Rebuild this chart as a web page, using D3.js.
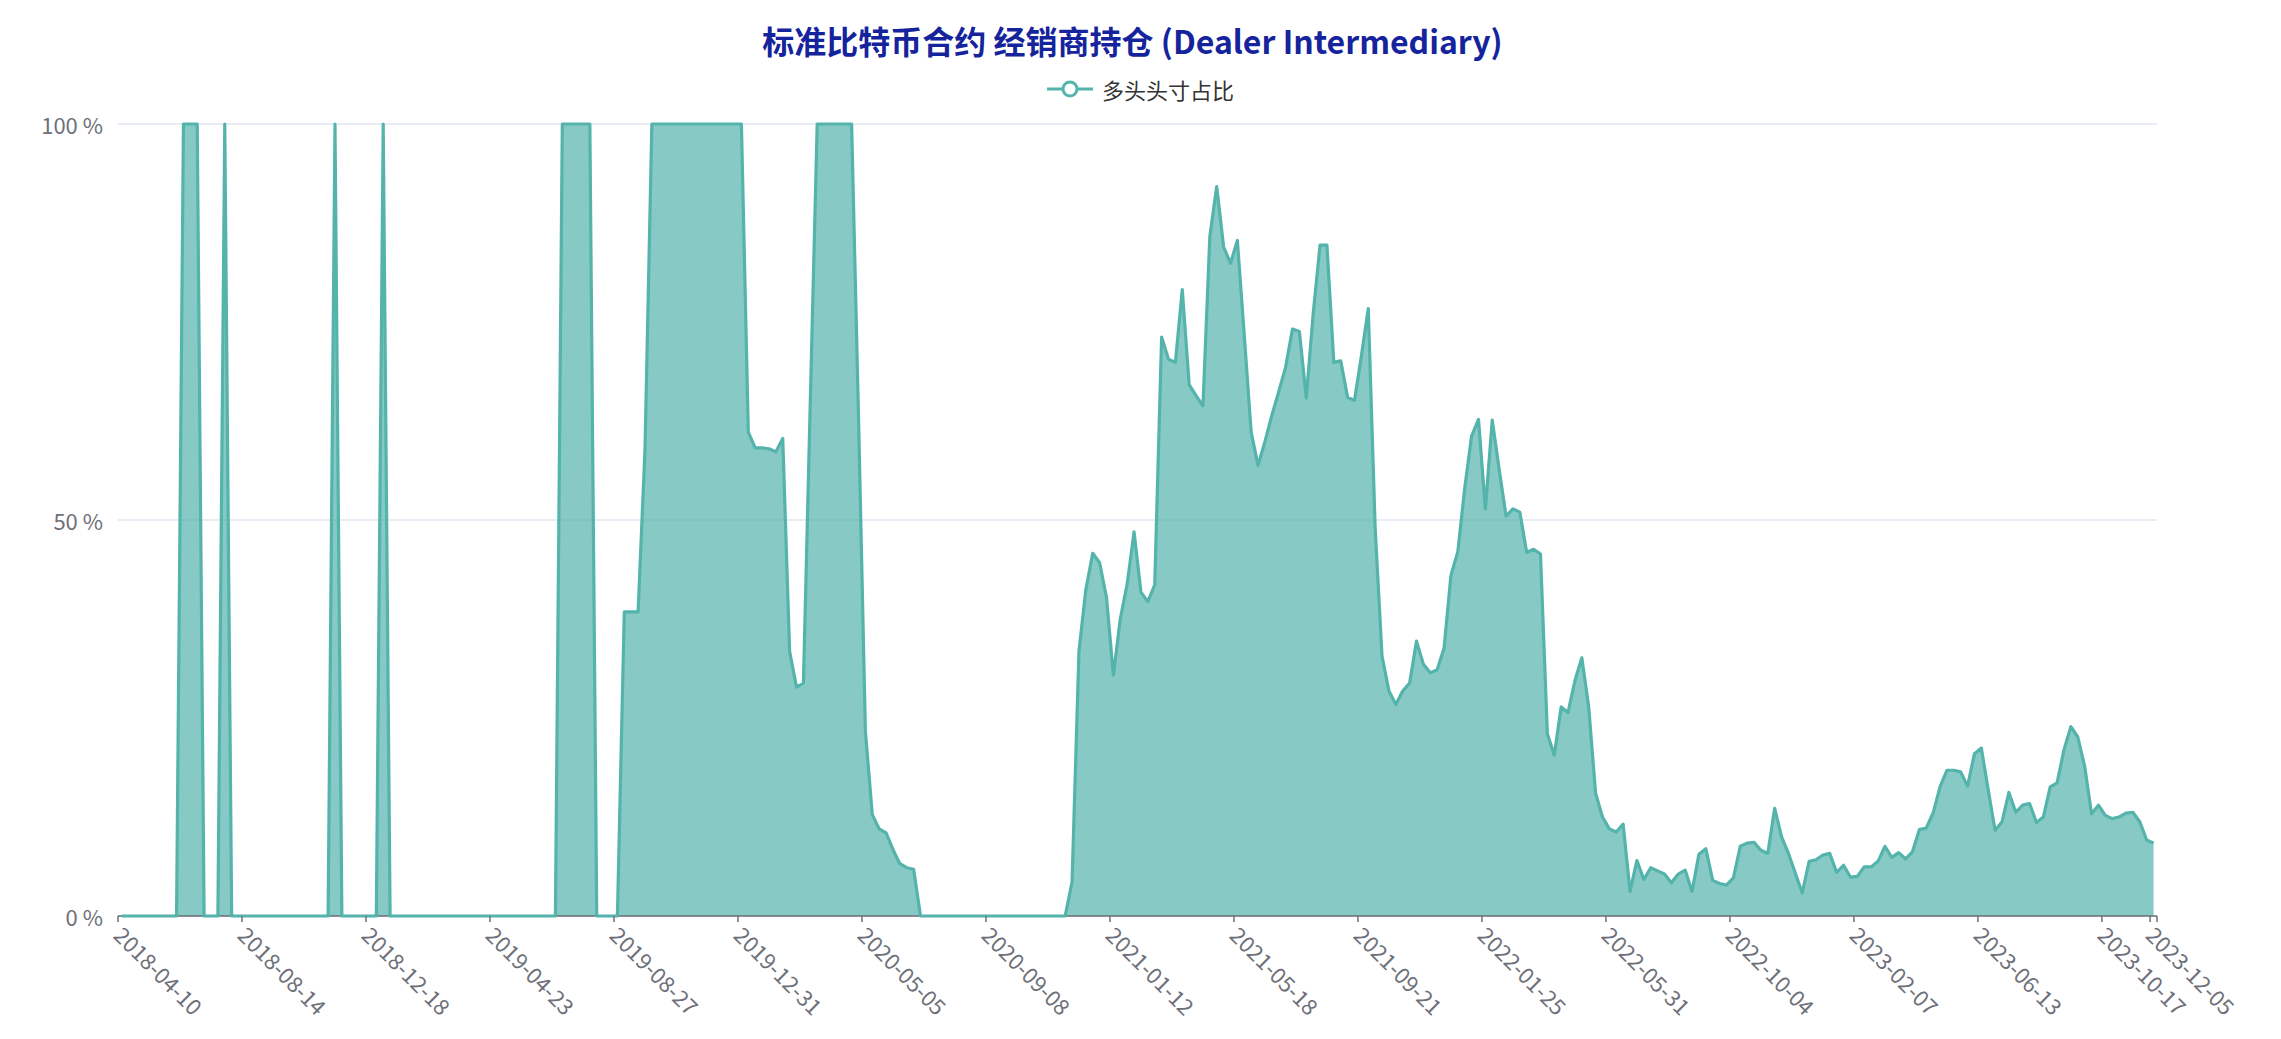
<!DOCTYPE html>
<html>
<head>
<meta charset="utf-8">
<script src="https://cdn.jsdelivr.net/npm/d3@7/dist/d3.min.js"></script>
<style>
  html, body { margin: 0; padding: 0; background: #ffffff; }
  svg { display: block; }
  text { font-family: "Noto Sans CJK SC", "Noto Sans", sans-serif; }
</style>
</head>
<body>
<svg id="chart" width="2281" height="1039"></svg>
<script>
// ---- DATA ----
const titleText = "标准比特币合约 经销商持仓 (Dealer Intermediary)";
const seriesName = "多头头寸占比";
const startDate = "2018-04-10";   // weekly categories start
const categoryCount = 296;
// x-axis labels shown (every 18th week + last)
const tickLabels = ["2018-04-10","2018-08-14","2018-12-18","2019-04-23","2019-08-27","2019-12-31",
  "2020-05-05","2020-09-08","2021-01-12","2021-05-18","2021-09-21","2022-01-25","2022-05-31",
  "2022-10-04","2023-02-07","2023-06-13","2023-10-17","2023-12-05"];
const yTicks = [0, 50, 100];
// long position share (%), weekly
const longShare = [
  0,0,0,0,0,0,0,0,0,100,
  100,100,0,0,0,100,0,0,0,0,
  0,0,0,0,0,0,0,0,0,0,
  0,100,0,0,0,0,0,0,100,0,
  0,0,0,0,0,0,0,0,0,0,
  0,0,0,0,0,0,0,0,0,0,
  0,0,0,0,100,100,100,100,100,0,
  0,0,0,38.4,38.4,38.4,58.8,100,100,100,
  100,100,100,100,100,100,100,100,100,100,
  100,61.1,59.1,59.1,59.0,58.6,60.3,33.4,28.9,29.4,
  65,100,100,100,100,100,100,63,23.3,12.8,
  11.0,10.5,8.4,6.6,6.1,5.9,0,0,0,0,
  0,0,0,0,0,0,0,0,0,0,
  0,0,0,0,0,0,0,0,4.3,33.4,
  41.2,45.8,44.6,40.2,30.4,37.5,41.9,48.5,40.9,39.7,
  41.8,73.1,70.3,69.9,79.1,67.1,65.7,64.4,85.8,92.1,
  84.5,82.4,85.3,73.3,61.1,56.9,59.9,63.2,66.2,69.3,
  74.1,73.8,65.4,76.0,84.7,84.7,69.9,70.1,65.5,65.1,
  70.7,76.7,49.0,32.8,28.4,26.7,28.4,29.4,34.7,31.8,
  30.7,31.1,33.8,43.0,46.0,54.0,60.6,62.7,51.4,62.6,
  56.4,50.5,51.4,51.0,45.9,46.3,45.7,23.0,20.3,26.4,
  25.7,29.7,32.6,26.4,15.5,12.5,11.0,10.6,11.6,3.1,
  7.0,4.6,6.1,5.7,5.3,4.2,5.3,5.8,3.1,7.8,
  8.5,4.5,4.1,3.9,4.8,8.8,9.2,9.3,8.3,7.9,
  13.6,10.0,7.9,5.4,2.9,6.9,7.1,7.7,7.9,5.5,
  6.4,4.9,5.0,6.2,6.2,6.9,8.8,7.4,8.0,7.2,
  8.1,10.9,11.1,13.0,16.3,18.4,18.4,18.2,16.4,20.5,
  21.2,15.9,10.8,11.9,15.6,13.1,14.0,14.2,11.8,12.5,
  16.3,16.8,21.0,23.9,22.6,18.9,12.9,14.0,12.7,12.3,
  12.5,13.0,13.1,11.9,9.6,9.2
];

// ---- CATEGORIES (weekly dates) ----
const fmt = d3.utcFormat("%Y-%m-%d");
const d0 = d3.utcParse("%Y-%m-%d")(startDate);
const categories = d3.range(categoryCount).map(i => fmt(d3.utcDay.offset(d0, 7 * i)));
const data = categories.map((c, i) => ({ cat: c, v: longShare[i] }));

// ---- LAYOUT ----
const W = 2281, H = 1039;
const mLeft = 118, mRight = 2157, mTop = 124, mBottom = 916;
const lineColor = "#54B4AC";
const axisColor = "#6E7079";
const gridColor = "#E0E6F1";

const svg = d3.select("#chart");

const x = d3.scaleBand().domain(categories).range([mLeft, mRight]).paddingInner(0).paddingOuter(0);
const xc = c => x(c) + x.bandwidth() / 2;
const y = d3.scaleLinear().domain([0, 100]).range([mBottom, mTop]);

// grid lines
svg.append("g").selectAll("line").data(yTicks).join("line")
  .attr("x1", mLeft).attr("x2", mRight)
  .attr("y1", d => y(d)).attr("y2", d => y(d))
  .attr("stroke", gridColor).attr("stroke-width", 1.5);

// y labels
svg.append("g").selectAll("text").data(yTicks).join("text")
  .attr("x", mLeft - 15).attr("y", d => y(d))
  .attr("text-anchor", "end").attr("dominant-baseline", "central")
  .attr("font-size", 22).attr("fill", axisColor)
  .text(d => d + " %");

// area + line
const area = d3.area().x(d => xc(d.cat)).y0(y(0)).y1(d => y(d.v));
const line = d3.line().x(d => xc(d.cat)).y(d => y(d.v));
svg.append("path").datum(data).attr("d", area)
  .attr("fill", lineColor).attr("fill-opacity", 0.7);

// x axis line
svg.append("line").attr("x1", mLeft).attr("x2", mRight).attr("y1", mBottom).attr("y2", mBottom)
  .attr("stroke", axisColor).attr("stroke-width", 1.5);

svg.append("path").datum(data).attr("d", line)
  .attr("fill", "none").attr("stroke", lineColor).attr("stroke-width", 3.2)
  .attr("stroke-linejoin", "round");

// x ticks (band boundaries at labelled categories) + axis end
const tickPos = tickLabels.map(t => x(t)).concat([mRight]);
svg.append("g").selectAll("line").data(tickPos).join("line")
  .attr("x1", d => d).attr("x2", d => d)
  .attr("y1", mBottom).attr("y2", mBottom + 6)
  .attr("stroke", axisColor).attr("stroke-width", 1.5);

// x labels rotated
svg.append("g").selectAll("text").data(tickLabels).join("text")
  .attr("transform", t => `translate(${xc(t) - 2},${mBottom + 14}) rotate(45)`)
  .attr("text-anchor", "start").attr("dominant-baseline", "central")
  .attr("font-size", 22).attr("fill", axisColor)
  .text(t => t);

// title
svg.append("text").attr("x", W / 2 - 8).attr("y", 40)
  .attr("text-anchor", "middle").attr("dominant-baseline", "central")
  .attr("font-size", 32).attr("font-weight", "bold").attr("fill", "#15249c")
  .text(titleText);

// legend
const lg = svg.append("g");
lg.append("line").attr("x1", 1047).attr("x2", 1093).attr("y1", 89).attr("y2", 89)
  .attr("stroke", lineColor).attr("stroke-width", 3);
lg.append("circle").attr("cx", 1070).attr("cy", 89).attr("r", 7)
  .attr("fill", "#fff").attr("stroke", lineColor).attr("stroke-width", 3);
lg.append("text").attr("x", 1102).attr("y", 89).attr("dominant-baseline", "central")
  .attr("font-size", 22).attr("fill", "#333").text(seriesName);
</script>
</body>
</html>
